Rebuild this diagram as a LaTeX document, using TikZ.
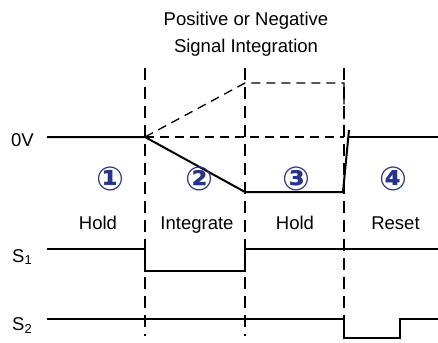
\documentclass[tikz,border=0pt]{standalone}
\usepackage{fontspec}
\setmainfont{Liberation Sans}
\newfontfamily\circfont{DejaVu Sans}
\definecolor{navy}{HTML}{27338C}
\begin{document}
\begin{tikzpicture}[x=1pt,y=-1pt,
  sig/.style={line width=2pt, line join=miter},
  guide/.style={line width=1.3pt, dash pattern=on 12pt off 7pt},
  envl/.style={line width=1.3pt, dash pattern=on 9pt off 6pt},
  lbl/.style={font=\fontsize{18.5}{21}\selectfont, anchor=base, inner sep=0pt},
  num/.style={font=\circfont\bfseries\fontsize{33}{33}\selectfont, text=navy, inner sep=0pt}]
\useasboundingbox (0,0) rectangle (438,342);
% titles
\node[lbl] (t1) at (246,26) {Positive or Negative};
\node[lbl] (t2) at (246,53) {Signal Integration};
% vertical guides
\coordinate (a1) at (145,68); \coordinate (a2) at (145,336);
\coordinate (b1) at (245,68); \coordinate (b2) at (245,336);
\coordinate (c1) at (344,68); \coordinate (c2) at (344,336);
\draw[guide] (a1) -- (a2);
\draw[guide] (b1) -- (b2);
\draw[guide] (c1) -- (c2);
% dashed envelope
\coordinate (z0) at (145,137);
\coordinate (p1) at (245,83);
\coordinate (p2) at (344,83);
\coordinate (p3) at (344,137);
\draw[envl] (z0) -- (p1) -- (p2) -- (p3);
\draw[envl] (z0) -- (p3);
% 0V signal
\node[lbl, anchor=base east] (zv) at (34,146) {0V};
\coordinate (v0) at (47,137);
\coordinate (n1) at (245,192);
\coordinate (n2) at (343,192);
\coordinate (n3) at (349,130);
\coordinate (r0) at (348,137);
\coordinate (r1) at (438,137);
\draw[sig] (v0) -- (z0) -- (n1) -- (n2) -- (n3);
\draw[sig] (r0) -- (r1);
% circled numbers
\node[num] (c1n) at (110,179) {①};
\node[num] (c2n) at (199.5,179) {②};
\node[num] (c3n) at (296,179) {③};
\node[num] (c4n) at (393.5,179) {④};
% phase labels
\node[lbl] (h1) at (98,229) {Hold};
\node[lbl] (h2) at (197,229) {Integrate};
\node[lbl] (h3) at (295,229) {Hold};
\node[lbl] (h4) at (395.5,229) {Reset};
% S1
\node[lbl, anchor=base west] (s1) at (12,262) {S\textsubscript{1}};
\coordinate (s1a) at (47,249);
\draw[sig] (s1a) -- (145,249) -- (145,271) -- (245,271) -- (245,249) -- (438,249);
% S2
\node[lbl, anchor=base west] (s2) at (12,330) {S\textsubscript{2}};
\coordinate (s2a) at (47,319);
\draw[sig] (s2a) -- (344,319) -- (344,338) -- (400,338) -- (400,319) -- (438,319);
\end{tikzpicture}
\end{document}
